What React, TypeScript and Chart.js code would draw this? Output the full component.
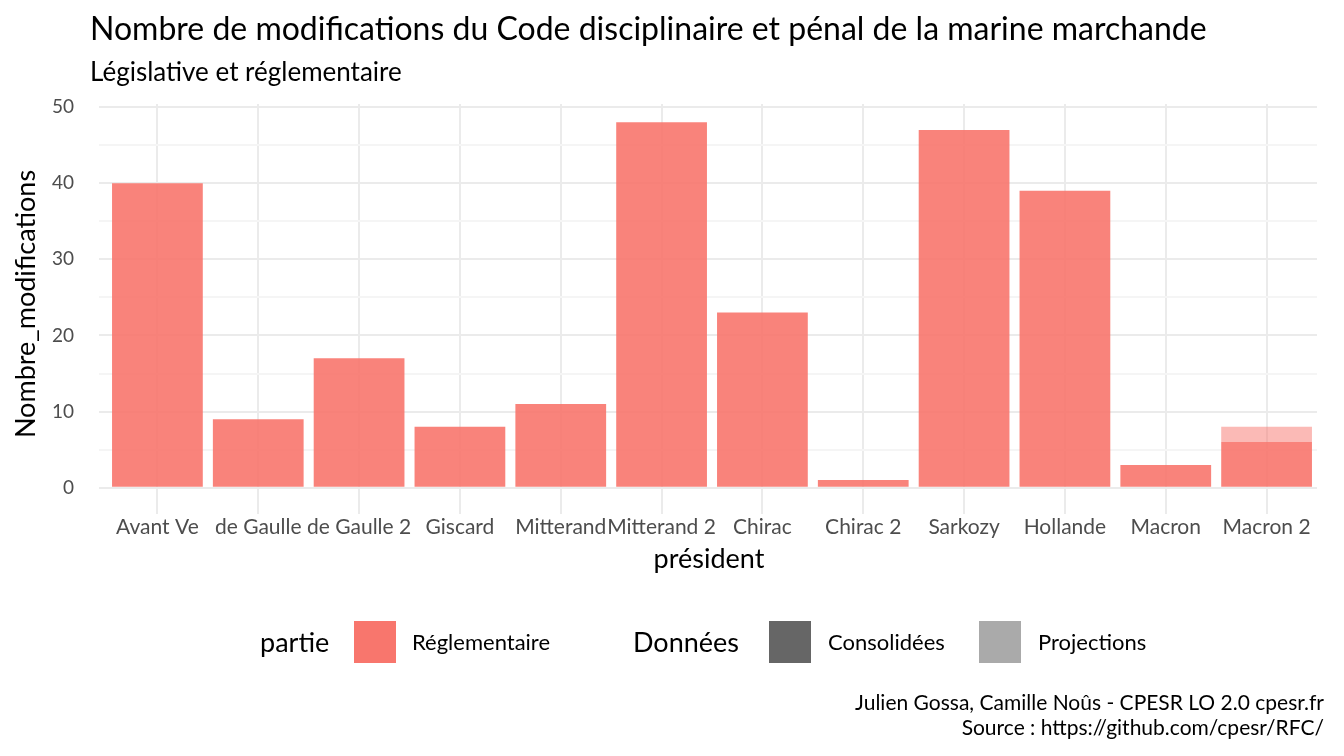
import { useRef, useEffect } from "react"
import { Chart, registerables } from "chart.js"

Chart.register(...registerables)

const presidents = ["Avant Ve", "de Gaulle", "de Gaulle 2", "Giscard", "Mitterand", "Mitterand 2", "Chirac", "Chirac 2", "Sarkozy", "Hollande", "Macron", "Macron 2"]
const consolidees = [40, 9, 17, 8, 11, 48, 23, 1, 47, 39, 3, 6]
const projections = [0, 0, 0, 0, 0, 0, 0, 0, 0, 0, 0, 2]
const yTicks = [0, 10, 20, 30, 40, 50]

const FONT = "Lato, 'Open Sans', sans-serif"

const textPlugin = {
  id: "texts",
  afterDraw(chart: any) {
    const ctx = chart.ctx
    const x = chart.scales.x
    const y = chart.scales.y
    ctx.save()
    ctx.fillStyle = "#000"
    ctx.textBaseline = "middle"
    ctx.font = `32px ${FONT}`
    ctx.textAlign = "left"
    ctx.fillText("Nombre de modifications du Code disciplinaire et pénal de la marine marchande", 90, 30)
    ctx.font = `26px ${FONT}`
    ctx.fillText("Législative et réglementaire", 90, 73)

    ctx.fillStyle = "#4D4D4D"
    ctx.font = `19px ${FONT}`
    ctx.textAlign = "right"
    yTicks.forEach((t) => ctx.fillText(String(t), 74, y.getPixelForValue(t)))
    ctx.textAlign = "center"
    ctx.font = `21px ${FONT}`
    presidents.forEach((p, i) => ctx.fillText(p, x.getPixelForValue(i), 527))

    ctx.fillStyle = "#000"
    ctx.font = `27px ${FONT}`
    ctx.fillText("président", 709, 559)
    ctx.save()
    ctx.translate(26, 304)
    ctx.rotate(-Math.PI / 2)
    ctx.fillText("Nombre_modifications", 0, 0)
    ctx.restore()

    // legend
    ctx.textAlign = "left"
    ctx.font = `27px ${FONT}`
    ctx.fillText("partie", 260, 643)
    ctx.fillText("Données", 633, 643)
    ctx.fillStyle = "#F8766D"
    ctx.fillRect(354, 621, 42, 42)
    ctx.fillStyle = "#666666"
    ctx.fillRect(769, 621, 42, 42)
    ctx.fillStyle = "#AAAAAA"
    ctx.fillRect(979, 621, 42, 42)
    ctx.fillStyle = "#000"
    ctx.font = `22px ${FONT}`
    ctx.fillText("Réglementaire", 412, 643)
    ctx.fillText("Consolidées", 828, 643)
    ctx.fillText("Projections", 1038, 643)

    ctx.textAlign = "right"
    ctx.font = `21px ${FONT}`
    ctx.fillText("Julien Gossa, Camille Noûs - CPESR LO 2.0 cpesr.fr", 1324, 703)
    ctx.fillText("Source : https://github.com/cpesr/RFC/", 1324, 728)
    ctx.restore()
  },
}

export default function App() {
  const canvasRef = useRef<HTMLCanvasElement>(null)

  useEffect(() => {
    if (!canvasRef.current) return
    document.body.style.margin = "0"
    const chart = new Chart(canvasRef.current, {
      type: "bar",
      data: {
        labels: presidents,
        datasets: [
          { label: "Consolidées", data: consolidees, backgroundColor: "rgba(248,118,109,0.9)", barPercentage: 0.9, categoryPercentage: 1 },
          { label: "Projections", data: projections, backgroundColor: "rgba(248,118,109,0.5)", barPercentage: 0.9, categoryPercentage: 1 },
        ],
      },
      options: {
        animation: false,
        responsive: false,
        layout: { padding: { left: 99, right: 27, top: 104, bottom: 242 } },
        plugins: { legend: { display: false }, tooltip: { enabled: false } },
        scales: {
          x: {
            stacked: true,
            ticks: { display: false },
            grid: { offset: false, color: "#EBEBEB", lineWidth: 2 },
            border: { display: false },
          },
          y: {
            stacked: true,
            min: -2.4,
            max: 50.4,
            afterBuildTicks: (s: any) => {
              s.ticks = [0, 5, 10, 15, 20, 25, 30, 35, 40, 45, 50].map((v) => ({ value: v }))
            },
            ticks: { display: false },
            grid: { color: (c: any) => (c.tick && c.tick.value % 10 === 0 ? "#EBEBEB" : "#F5F5F5"), lineWidth: 2 },
            border: { display: false },
          },
        },
      },
      plugins: [textPlugin],
    })
    return () => chart.destroy()
  }, [])

  return <canvas ref={canvasRef} width={1344} height={756} style={{ display: "block" }} />
}
